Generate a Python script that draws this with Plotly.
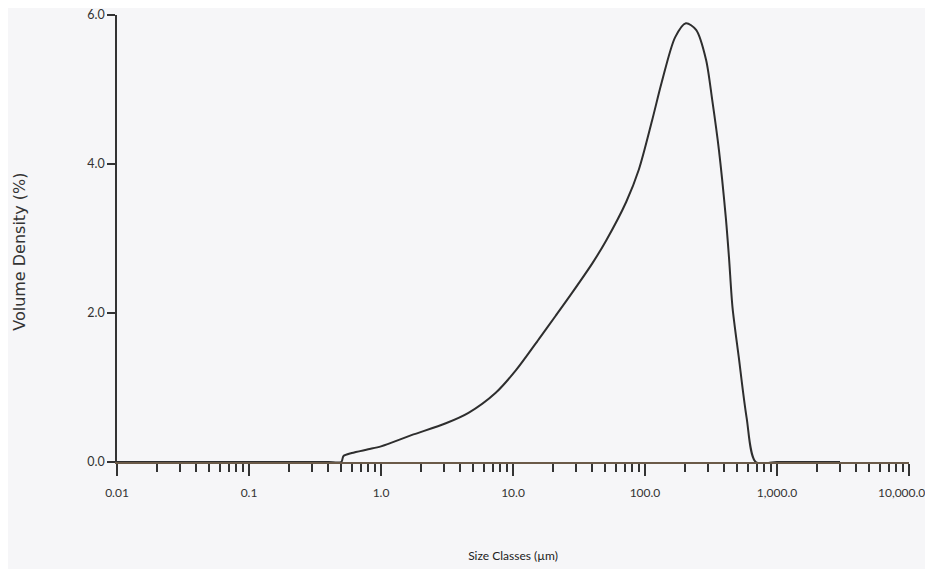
import math
import plotly.graph_objects as go

# Particle size (µm) and volume density (%)
size_um = [0.01, 0.02, 0.05, 0.1, 0.2, 0.3, 0.4, 0.5, 0.52, 0.6, 0.8, 1.0, 1.7, 3.1,
           4.6, 7.4, 10.5, 15.7, 21.0, 28.0, 40.0, 50.7, 72.0, 90.0, 113.0, 134.0,
           169.0, 204.0, 244.0, 290.0, 323.0, 363.0, 409.0, 433.0, 460.0, 513.0,
           588.0, 690.0, 1000.0, 2000.0, 3000.0]
volume_pct = [0.0, 0.0, 0.0, 0.0, 0.0, 0.0, 0.0, 0.0, 0.08, 0.12, 0.17, 0.21, 0.36, 0.52,
              0.66, 0.93, 1.23, 1.65, 1.96, 2.27, 2.67, 2.97, 3.49, 3.93, 4.58, 5.10,
              5.70, 5.89, 5.80, 5.40, 4.86, 4.19, 3.29, 2.74, 2.08, 1.41,
              0.60, 0.0, 0.0, 0.0, 0.0]

x_major = [0.01, 0.1, 1, 10, 100, 1000, 10000]
x_major_text = ["0.01", "0.1", "1.0", "10.0", "100.0", "1,000.0", "10,000.0"]
y_ticks = [0, 2, 4, 6]
y_tick_text = ["0.0", "2.0", "4.0", "6.0"]

x_minor = [m * 10 ** e for e in range(-2, 4) for m in range(2, 10)]

narrow = "Liberation Sans Narrow, Lato, Roboto, sans-serif"

# last label is drawn as an annotation nudged left (as in the reference) so it fits
tick_text_shown = x_major_text[:-1] + [""]

fig = go.Figure()
fig.add_trace(go.Scatter(
    x=size_um, y=volume_pct, mode="lines",
    line=dict(color="#2e2e2e", width=2, shape="spline", smoothing=0.8),
    showlegend=False, hoverinfo="x+y"))

fig.update_layout(
    width=925, height=561,
    margin=dict(l=109, r=24, t=7, b=107),
    paper_bgcolor="#f6f6f8", plot_bgcolor="#f6f6f8",
    font=dict(family=narrow, size=12, color="#333333"),
    xaxis=dict(
        type="log", range=[-2, 4], automargin=False,
        tickvals=x_major, ticktext=tick_text_shown,
        ticks="outside", ticklen=12, tickwidth=1.5, tickcolor="#333333",
        minor=dict(tickvals=x_minor, ticks="outside", ticklen=8, tickwidth=1.5,
                   tickcolor="#333333", showgrid=False),
        showline=True, linecolor="#6b5a48", linewidth=1.5,
        showgrid=False, zeroline=False, ticklabeloverflow="allow",
        ticklabelstandoff=7,
        tickfont=dict(family=narrow, size=12, color="#333333"),
        title=dict(text="Size Classes (µm)", standoff=52,
                   font=dict(family=narrow, size=12, color="#222222")),
    ),
    yaxis=dict(
        range=[0, 6], tickvals=y_ticks, ticktext=y_tick_text, automargin=False,
        ticks="outside", ticklen=8, tickwidth=1.5, tickcolor="#333333",
        showline=True, linecolor="#333333", linewidth=1.5,
        showgrid=False, zeroline=False, ticklabeloverflow="allow",
        tickfont=dict(family=narrow, size=12.5, color="#333333"),
    ),
    annotations=[
        dict(text="Volume Density (%)", textangle=-90,
             xref="paper", yref="paper", x=-0.1226, y=0.47,
             xanchor="center", yanchor="middle", showarrow=False,
             font=dict(family="DejaVu Sans, Verdana, sans-serif", size=16, color="#333333")),
        dict(text=x_major_text[-1], xref="x", yref="paper",
             x=math.log10(x_major[-1]), y=0, xanchor="center", yanchor="middle",
             xshift=-8, yshift=-30, showarrow=False,
             font=dict(family=narrow, size=12, color="#333333")),
    ],
)

fig.write_html("out.html")
